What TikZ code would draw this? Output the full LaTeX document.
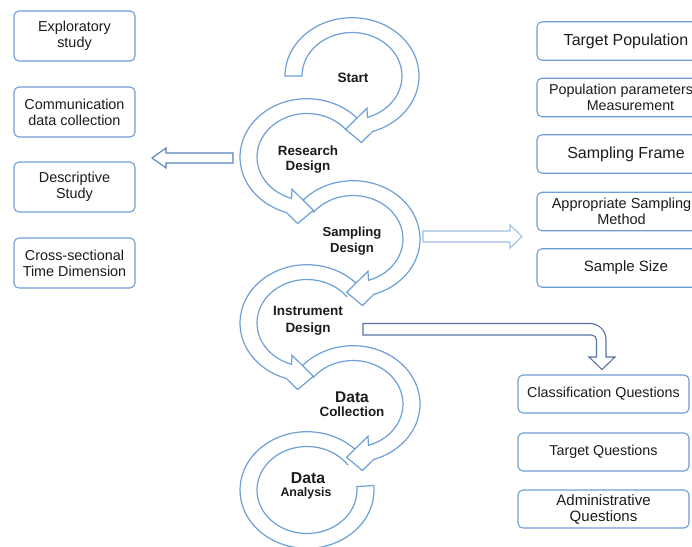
\documentclass[tikz,border=0pt]{standalone}
\usepackage{fontspec}
\setmainfont{Liberation Sans}
\definecolor{ringblue}{RGB}{108,160,214}
\definecolor{boxblue}{RGB}{112,158,212}
\definecolor{txtc}{RGB}{28,28,28}
\definecolor{arrowl}{RGB}{84,130,192}
\definecolor{arrowr}{RGB}{160,192,230}
\definecolor{arrowb}{RGB}{88,116,165}
\newcommand\fsz[2]{\fontsize{#1}{#2}\selectfont}
% clockwise (on screen) ring arrow: centre x, centre y, tail angle, end angle, closing
\newcommand\cwring[5]{%
  \begin{scope}[shift={(#1,#2)}]
    \filldraw[ringpath] (#3:67 and 58.3) arc[start angle=#3,end angle=#4,x radius=67,y radius=58.3]
      -- ({#4+11}:77 and 67) -- ({#4+24}:61.4 and 53.6) -- ({#4-4}:40 and 34.8) -- (#4:50 and 43.5)
      arc[start angle=#4,end angle=#3,x radius=50,y radius=43.5] #5;
  \end{scope}}
% counter-clockwise (on screen) ring arrow
\newcommand\ccwring[5]{%
  \begin{scope}[shift={(#1,#2)}]
    \filldraw[ringpath] (#3:67 and 58.3) arc[start angle=#3,end angle=#4,x radius=67,y radius=58.3]
      -- ({#4-11}:77 and 67) -- ({#4-24}:61.4 and 53.6) -- ({#4+4}:40 and 34.8) -- (#4:50 and 43.5)
      arc[start angle=#4,end angle=#3,x radius=50,y radius=43.5] #5;
  \end{scope}}
\begin{document}
\begin{tikzpicture}[x=1pt,y=-1pt,
  ringpath/.style={draw=ringblue,fill=white,line width=1.2pt,line join=miter},
  lbox/.style={draw=boxblue,fill=white,rounded corners=5pt,line width=1.1pt,
    minimum width=121pt,minimum height=50pt,inner sep=0pt,align=center,
    text=txtc,font=\fsz{14.4}{16}},
  rbox/.style={lbox,minimum width=178pt,minimum height=38.5pt},
  bbox/.style={lbox,minimum width=171pt,minimum height=38pt},
  plaintext/.style={align=center,text=txtc,inner sep=0pt,font=\fsz{14.4}{16}},
  steplabel/.style={align=center,text=txtc,inner sep=0pt,font=\bfseries\fsz{13.4}{15}},
  blockarrow/.style={fill=white,line width=1.1pt,line join=miter}]
\fill[white] (0,0) rectangle (692,546);
\useasboundingbox (0,0) rectangle (692,546);

% ---- circular process arrows (drawn from last to first) ----
\begin{scope}[shift={(307,490)}]
  \filldraw[ringpath] (325:67 and 58.3) arc[start angle=325,end angle=-4.5,x radius=67,y radius=58.3]
    -- (-4.5:50 and 43.5) arc[start angle=-4.5,end angle=325,x radius=50,y radius=43.5];
\end{scope}
\cwring{353}{404}{217}{432}{}
\ccwring{307}{323}{323}{108}{}
\cwring{353}{239}{217}{432}{}
\ccwring{307}{157}{323}{108}{}
\cwring{352}{76}{180}{432}{-- cycle}

% ---- step labels ----
\node[steplabel,font=\bfseries\fsz{13.6}{15}] (start) at (353,78) {Start};
\node[steplabel] (research) at (308,160) {Research\\Design};
\node[steplabel,font=\bfseries\fsz{13.1}{16}] (sampling) at (352,241) {Sampling\\Design};
\node[steplabel,font=\bfseries\fsz{13.5}{17}] (instrument) at (308,321) {Instrument\\Design};
\node[steplabel,font=\bfseries\fsz{15.5}{16}] (dcdata) at (352,397) {Data};
\node[steplabel,font=\bfseries\fsz{13.4}{16}] (dccoll) at (352,412) {Collection};
\node[steplabel,font=\bfseries\fsz{15.8}{16}] (dadata) at (308,478) {Data};
\node[steplabel,font=\bfseries\fsz{12.4}{16}] (daanal) at (306,493) {Analysis};

% ---- left boxes ----
\node[lbox] (expl) at (74.5,36) {Exploratory\\study};
\node[lbox] (comm) at (74.5,112) {Communication\\data collection};
\node[lbox] (desc) at (74.5,187) {Descriptive\\Study};
\node[lbox] (cross) at (74.5,263) {Cross-sectional\\Time Dimension};

% ---- right boxes ----
\node[rbox,font=\fsz{16}{17}] (tpop) at (626,41) {Target Population};
\node[rbox] (ppm) at (626,97.5) {};
\node[plaintext,font=\fsz{14.3}{16}] (ppmtext) at (621,97.5) {Population parameters\\\hspace*{19pt}Measurement};
\node[rbox,font=\fsz{16}{17}] (frame) at (626,154) {Sampling Frame};
\node[rbox] (meth) at (626,211.5) {};
\node[plaintext,font=\fsz{14.5}{16}] (methtext) at (621.5,211.5) {Appropriate Sampling\\Method};
\node[rbox,font=\fsz{15}{17}] (size) at (626,268) {Sample Size};

% ---- bottom boxes ----
\node[bbox,font=\fsz{14.3}{16}] (classq) at (603.5,394) {Classification Questions};
\node[bbox,font=\fsz{14.3}{16}] (targq) at (603.5,452) {Target Questions};
\node[bbox,font=\fsz{15}{16}] (adminq) at (603.5,509) {Administrative\\Questions};

% ---- block arrows ----
\filldraw[blockarrow,draw=arrowl] (233,153) -- (166,153) -- (166,148) -- (152,158)
  -- (166,168) -- (166,163) -- (233,163) -- cycle;
\filldraw[blockarrow,draw=arrowr] (423,231) -- (510,231) -- (510,225) -- (522,236.5)
  -- (510,248) -- (510,242) -- (423,242) -- cycle;
\filldraw[blockarrow,draw=arrowb] (363,323.5) -- (590,323.5) arc[start angle=-90,end angle=0,radius=16]
  -- (606,357) -- (615,357) -- (602,369.5) -- (589,357) -- (596.5,357) -- (596.5,340)
  arc[start angle=0,end angle=-90,radius=5] -- (363,335) -- cycle;
\end{tikzpicture}
\end{document}
